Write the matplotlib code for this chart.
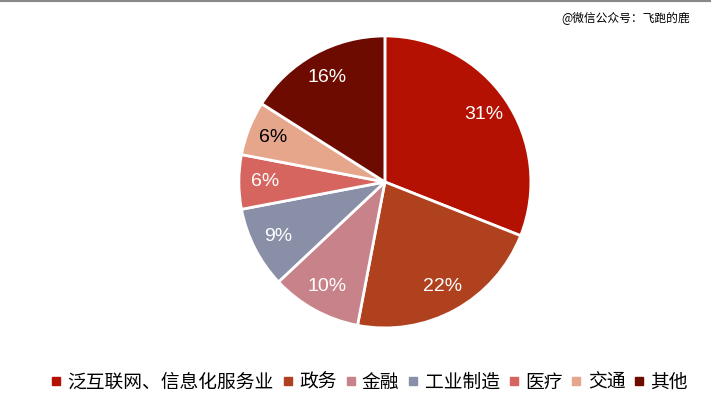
import matplotlib.pyplot as plt
from matplotlib.lines import Line2D

plt.rcParams['font.family'] = ['Noto Sans CJK SC', 'DejaVu Sans']

# data
categories = ['泛互联网、信息化服务业', '政务', '金融', '工业制造', '医疗', '交通', '其他']
shares = [31, 22, 10, 9, 6, 6, 16]
colors = ['#B51102', '#B0411F', '#C8838A', '#8A8FA8', '#D7655F', '#E5A68C', '#6E0B00']
label_colors = ['white', 'white', 'white', 'white', 'white', 'black', 'white']

fig = plt.figure(figsize=(7.11, 3.99), dpi=100)
ax = fig.add_axes([0.336, 0.178, 0.4107, 0.732])

wedges, texts, autotexts = ax.pie(
    shares, colors=colors, startangle=90, counterclock=False,
    autopct='%1.0f%%', pctdistance=0.82, radius=1,
    wedgeprops=dict(edgecolor='white', linewidth=2))
for t, c in zip(autotexts, label_colors):
    t.set_color(c)
    t.set_fontsize(14)
    t.set_family('Liberation Sans')
ax.set_xlim(-1, 1)
ax.set_ylim(-1, 1)
ax.set_aspect('equal')

handles = [Line2D([], [], marker='s', linestyle='none', markersize=6,
                  markerfacecolor=c, markeredgecolor=c) for c in colors]
fig.legend(handles, categories, loc='center', bbox_to_anchor=(0.52, 0.042),
           ncol=7, frameon=False, fontsize=13.5, handlelength=0.5,
           handletextpad=0.35, columnspacing=0.5)

fig.text(0.97, 0.955, '@微信公众号：飞跑的鹿', ha='right', va='center', fontsize=8.5)
fig.add_artist(Line2D([0, 1], [0.998, 0.998], color='#888888', linewidth=1.5))

fig.savefig('out.png', dpi=100)
